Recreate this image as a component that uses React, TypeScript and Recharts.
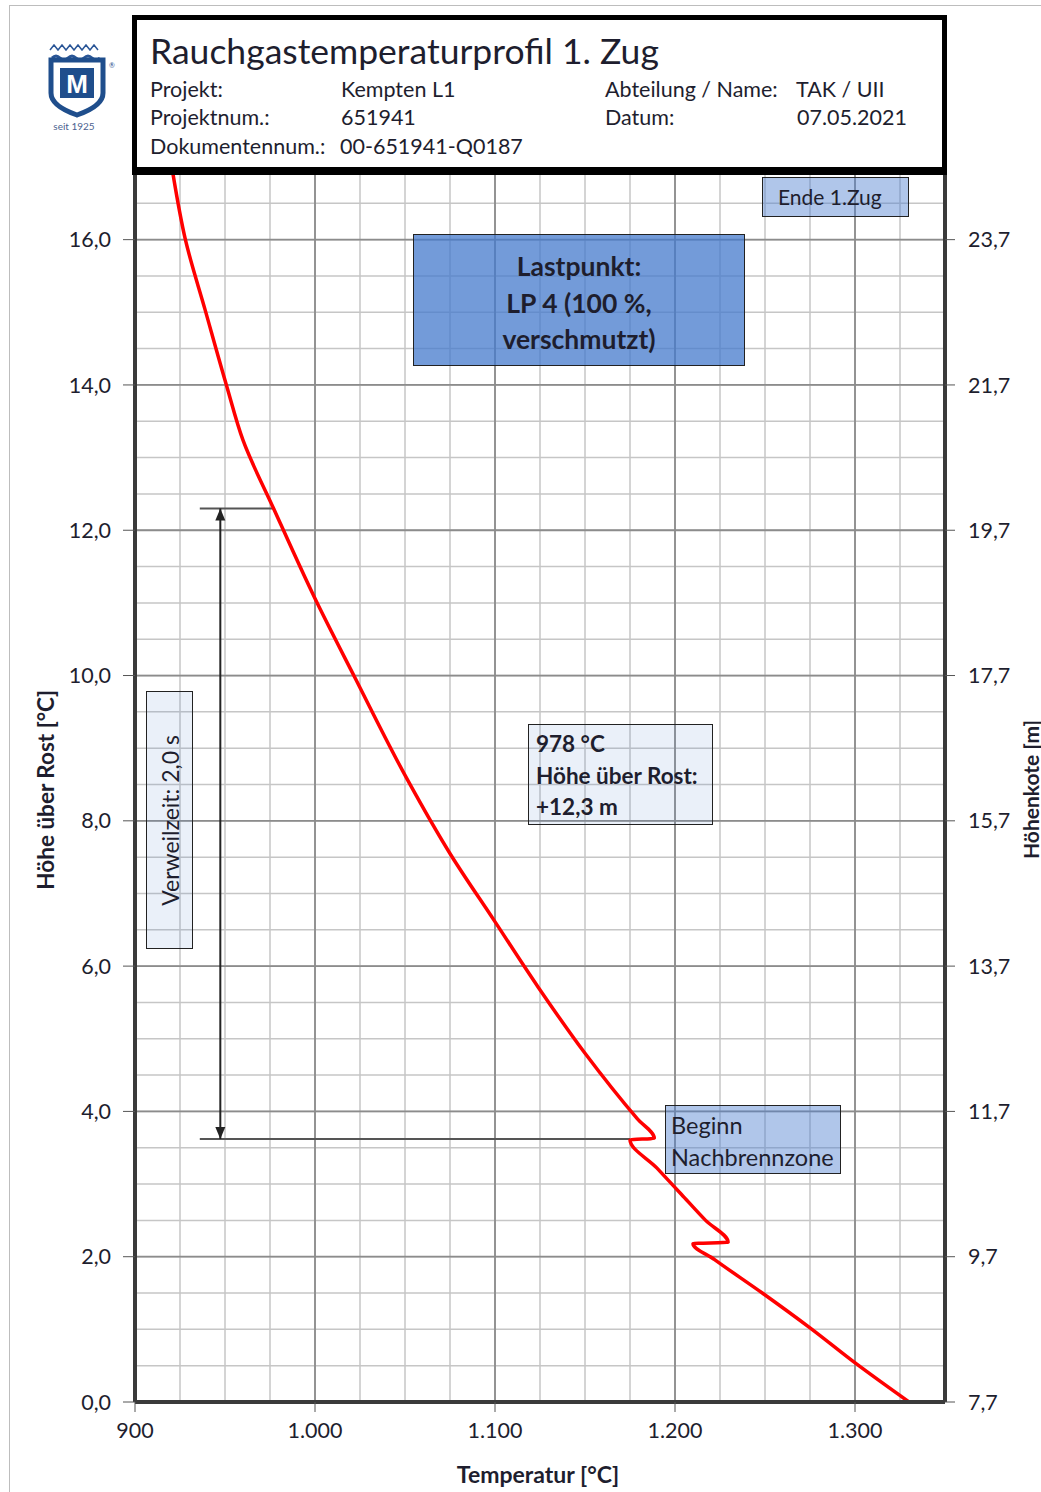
import React from "react";
import {
  LineChart,
  Line,
  XAxis,
  YAxis,
  CartesianGrid,
  ReferenceLine,
} from "recharts";

// flue gas temperature [°C] vs. height above grate [m] (top -> bottom)
const temperatures = [
  921, 928, 939, 951, 960, 977, 1000, 1022, 1051.5, 1075.5, 1099.5, 1124, 1150,
  1179, 1188.5, 1175, 1190, 1203.5, 1217, 1229.5, 1210, 1222, 1248.5, 1275, 1301,
  1330,
];
const heights = [
  16.92, 16.0, 15.03, 13.98, 13.24, 12.3, 11.06, 9.98, 8.56, 7.53, 6.63, 5.71,
  4.8, 3.9, 3.63, 3.61, 3.22, 2.86, 2.5, 2.2, 2.18, 1.96, 1.5, 1.02, 0.52, 0.0,
];

const heightTicks = [0, 2, 4, 6, 8, 10, 12, 14, 16];
const heightLabels = ["0,0", "2,0", "4,0", "6,0", "8,0", "10,0", "12,0", "14,0", "16,0"];
const koteLabels = ["7,7", "9,7", "11,7", "13,7", "15,7", "17,7", "19,7", "21,7", "23,7"];
const tempTicks = [900, 1000, 1100, 1200, 1300];
const tempLabels = ["900", "1.000", "1.100", "1.200", "1.300"];

// residence time marker
const markerStartT = 936;
const markerArrowT = 947.4;
const markerTopH = 12.3;
const markerTopT = 977;
const markerBottomH = 3.62;
const markerBottomT = 1175;

const minorT: number[] = [];
for (let t = 925; t < 1350; t += 25) minorT.push(t);
const minorH: number[] = [];
for (let h = 0.5; h < 17; h += 0.5) minorH.push(h);

const data = temperatures.map((t, i) => ({ t, h: heights[i] }));

const FONT = "Lato, 'Liberation Sans', sans-serif";
const TEXT = "#1e1e2e";

const DoubleArrow = (p: any) => {
  const { x1, y1, x2, y2 } = p;
  const top = Math.min(y1, y2);
  const bot = Math.max(y1, y2);
  return (
    <g>
      <line x1={x1} y1={top} x2={x2} y2={bot} stroke="#222" strokeWidth={2} />
      <path d={`M${x1 - 5},${top + 12} L${x1},${top} L${x1 + 5},${top + 12} Z`} fill="#222" />
      <path d={`M${x1 - 5},${bot - 12} L${x1},${bot} L${x1 + 5},${bot - 12} Z`} fill="#222" />
    </g>
  );
};

const Logo = () => (
  <svg width={80} height={100} style={{ position: "absolute", left: 40, top: 38 }}>
    <path
      d="M10,12 l4,-5 l4,5 l4,-5 l4,5 l4,-5 l4,5 l4,-5 l4,5 l4,-5 l4,5 l4,-5 l4,5"
      fill="none"
      stroke="#2a5697"
      strokeWidth={1.5}
    />
    <path
      d="M12,20 q4,-4 8,0 q4,4 8,0 q4,-4 8,0 q4,4 8,0 q4,-4 8,0 q4,4 8,0"
      fill="none"
      stroke="#2a5697"
      strokeWidth={3}
    />
    <path
      d="M11,22 L63,22 L63,55 Q63,68 37,77 Q11,68 11,55 Z"
      fill="#fff"
      stroke="#1f4e8c"
      strokeWidth={5}
    />
    <rect x={20} y={30} width={34} height={30} fill="#1f4e8c" />
    <text x={37} y={55} textAnchor="middle" fill="#fff" fontSize={26} fontWeight={900} fontFamily="'Liberation Sans', sans-serif">
      M
    </text>
    <text x={69} y={30} fontSize={7} fill="#1f4e8c">®</text>
    <text x={34} y={92} textAnchor="middle" fontSize={10} fill="#4b5f8f" fontFamily={FONT}>
      seit 1925
    </text>
  </svg>
);

const abs = (left: number, top: number, extra: React.CSSProperties = {}): React.CSSProperties => ({
  position: "absolute",
  left,
  top,
  ...extra,
});

const info = (left: number, top: number, text: string) => (
  <div style={abs(left, top, { fontSize: 21.5, lineHeight: "28px", whiteSpace: "nowrap" })}>{text}</div>
);

const App = () => {
  const tickStyle = { fontSize: 21.5, fill: TEXT, fontFamily: FONT };
  return (
    <div
      style={{
        position: "absolute",
        left: 0,
        top: 0,
        width: 1041,
        height: 1492,
        overflow: "hidden",
        background: "#fff",
        fontFamily: FONT,
        color: TEXT,
      }}
    >
      <div style={abs(9, 5, { width: 1100, height: 1600, border: "1.5px solid #bdbdbd" })} />

      <LineChart
        width={1041}
        height={1492}
        data={data}
        margin={{ top: 167, right: 0, bottom: 0, left: 0 }}
        style={{ position: "absolute", left: 0, top: 0 }}
      >
        <CartesianGrid
          stroke="#c6c6c6"
          strokeWidth={1.5}
          horizontalValues={minorH}
          verticalValues={minorT}
        />
        <CartesianGrid
          stroke="#8c8c8c"
          strokeWidth={1.8}
          horizontalValues={heightTicks}
          verticalValues={tempTicks}
        />
        <XAxis
          dataKey="t"
          type="number"
          domain={[900, 1350]}
          ticks={tempTicks}
          tickFormatter={(v: number, i: number) => tempLabels[i] ?? String(v)}
          height={90}
          tick={tickStyle}
          tickSize={10}
          tickMargin={11}
          axisLine={{ stroke: "#3a3a3a", strokeWidth: 4 }}
          tickLine={{ stroke: "#555" }}
        />
        <YAxis
          type="number"
          domain={[0, 17]}
          ticks={heightTicks}
          tickFormatter={(v: number, i: number) => heightLabels[i] ?? String(v)}
          width={135}
          tick={tickStyle}
          tickSize={12}
          tickMargin={12}
          axisLine={{ stroke: "#3a3a3a", strokeWidth: 4 }}
          tickLine={{ stroke: "#555" }}
        />
        <YAxis
          yAxisId="r"
          orientation="right"
          type="number"
          domain={[0, 17]}
          ticks={heightTicks}
          tickFormatter={(v: number, i: number) => koteLabels[i] ?? String(v)}
          width={96}
          tick={tickStyle}
          tickSize={10}
          tickMargin={13}
          textAnchor="start"
          axisLine={{ stroke: "#3a3a3a", strokeWidth: 4 }}
          tickLine={{ stroke: "#555" }}
        />
        <ReferenceLine
          segment={[
            { x: markerStartT, y: markerTopH },
            { x: markerTopT, y: markerTopH },
          ]}
          stroke="#555"
          strokeWidth={2}
        />
        <ReferenceLine
          segment={[
            { x: markerStartT, y: markerBottomH },
            { x: markerBottomT, y: markerBottomH },
          ]}
          stroke="#555"
          strokeWidth={2}
        />
        <ReferenceLine
          segment={[
            { x: markerArrowT, y: markerTopH },
            { x: markerArrowT, y: markerBottomH },
          ]}
          shape={DoubleArrow}
        />
        {/* same profile on the right (Höhenkote) axis, kept invisible so that axis gets drawn */}
        <Line
          yAxisId="r"
          dataKey="h"
          stroke="none"
          dot={false}
          activeDot={false}
          isAnimationActive={false}
        />
        <Line
          dataKey="h"
          type="monotoneY"
          stroke="#ff0000"
          strokeWidth={3.5}
          dot={false}
          isAnimationActive={false}
        />
      </LineChart>

      {/* header block */}
      <div
        style={abs(132, 15, {
          width: 815,
          height: 160,
          boxSizing: "border-box",
          border: "5px solid #000",
          borderBottomWidth: 8,
          background: "#fff",
        })}
      />
      <div style={abs(150, 30, { fontSize: 35.5, lineHeight: "42px", whiteSpace: "nowrap" })}>
        Rauchgastemperaturprofil 1. Zug
      </div>
      {info(150, 75, "Projekt:")}
      {info(341, 75, "Kempten L1")}
      {info(605, 75, "Abteilung / Name:")}
      {info(796, 75, "TAK / UII")}
      {info(150, 103, "Projektnum.:")}
      {info(341, 103, "651941")}
      {info(605, 103, "Datum:")}
      {info(797, 103, "07.05.2021")}
      {info(150, 132, "Dokumentennum.:")}
      {info(340, 132, "00-651941-Q0187")}
      <Logo />

      {/* annotation boxes */}
      <div
        style={abs(762, 177, {
          width: 147,
          height: 40,
          boxSizing: "border-box",
          border: "1.5px solid #222",
          background: "rgba(79,129,209,0.45)",
          fontSize: 21,
          lineHeight: "37px",
          paddingLeft: 15,
          whiteSpace: "nowrap",
        })}
      >
        Ende 1.Zug
      </div>
      <div
        style={abs(413, 234, {
          width: 332,
          height: 132,
          boxSizing: "border-box",
          border: "1.5px solid #222",
          background: "rgba(68,122,204,0.75)",
          fontSize: 26.5,
          fontWeight: 700,
          lineHeight: "36.5px",
          paddingTop: 13,
          textAlign: "center",
        })}
      >
        Lastpunkt:
        <br />
        LP 4 (100 %,
        <br />
        verschmutzt)
      </div>
      <div
        style={abs(528, 724, {
          width: 185,
          height: 101,
          boxSizing: "border-box",
          border: "1.5px solid #222",
          background: "rgba(79,129,209,0.12)",
          fontSize: 22.5,
          fontWeight: 700,
          lineHeight: "31.5px",
          paddingTop: 3,
          paddingLeft: 7,
          whiteSpace: "nowrap",
        })}
      >
        978 °C
        <br />
        Höhe über Rost:
        <br />
        +12,3 m
      </div>
      <div
        style={abs(665, 1105, {
          width: 176,
          height: 69,
          boxSizing: "border-box",
          border: "1.5px solid #222",
          background: "rgba(79,129,209,0.45)",
          fontSize: 23.5,
          lineHeight: "32px",
          paddingTop: 3,
          paddingLeft: 5,
          whiteSpace: "nowrap",
        })}
      >
        Beginn
        <br />
        Nachbrennzone
      </div>
      <div
        style={abs(146, 691, {
          width: 47,
          height: 258,
          boxSizing: "border-box",
          border: "1.5px solid #222",
          background: "rgba(79,129,209,0.12)",
          display: "flex",
          alignItems: "center",
          justifyContent: "center",
        })}
      >
        <span style={{ writingMode: "vertical-rl", transform: "rotate(180deg)", fontSize: 23, whiteSpace: "nowrap" }}>
          Verweilzeit: 2,0 s
        </span>
      </div>

      {/* axis titles */}
      <div
        style={abs(25, 640, {
          width: 40,
          height: 300,
          display: "flex",
          alignItems: "center",
          justifyContent: "center",
        })}
      >
        <span style={{ writingMode: "vertical-rl", transform: "rotate(180deg)", fontSize: 22.5, fontWeight: 700, whiteSpace: "nowrap" }}>
          Höhe über Rost [°C]
        </span>
      </div>
      <div
        style={abs(1010, 640, {
          width: 40,
          height: 300,
          display: "flex",
          alignItems: "center",
          justifyContent: "center",
        })}
      >
        <span style={{ writingMode: "vertical-rl", transform: "rotate(180deg)", fontSize: 21, fontWeight: 700, whiteSpace: "nowrap" }}>
          Höhenkote [m]
        </span>
      </div>
      <div
        style={abs(388, 1459, {
          width: 300,
          textAlign: "center",
          fontSize: 23,
          fontWeight: 700,
          lineHeight: "30px",
        })}
      >
        Temperatur [°C]
      </div>
    </div>
  );
};

export default App;
